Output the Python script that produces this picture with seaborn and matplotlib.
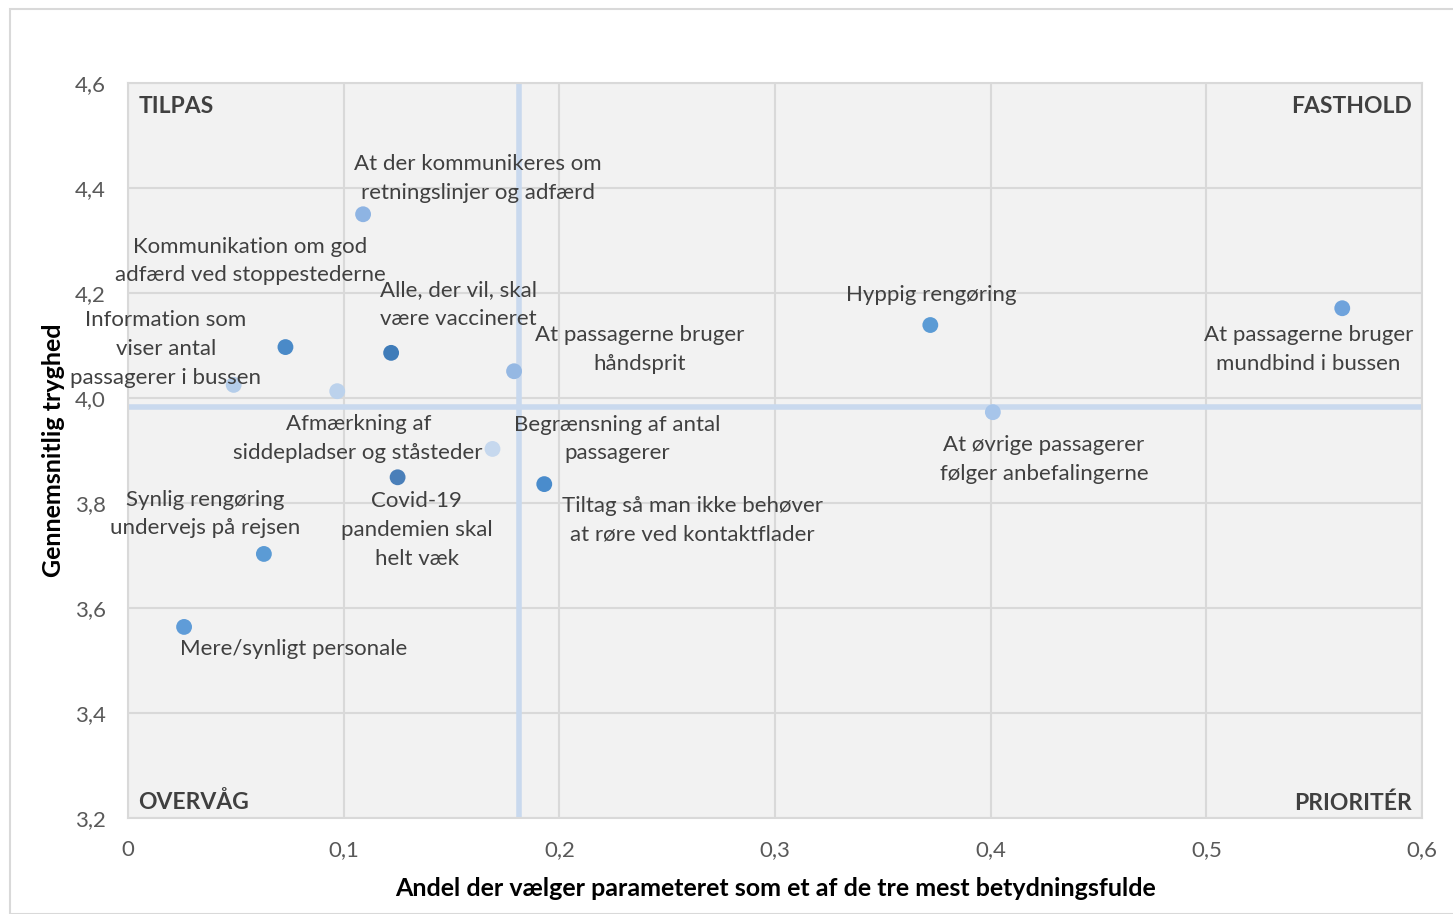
import matplotlib
matplotlib.use("Agg")
import numpy as np
import pandas as pd
import seaborn as sns
import matplotlib.pyplot as plt
from matplotlib.patches import Rectangle

# data
labels = [
    "At der kommunikeres om\nretningslinjer og adfærd",
    "Kommunikation om god\nadfærd ved stoppestederne",
    "Information som\nviser antal\npassagerer i bussen",
    "Alle, der vil, skal\nvære vaccineret",
    "At passagerne bruger\nhåndsprit",
    "Hyppig rengøring",
    "At passagerne bruger\nmundbind i bussen",
    "At øvrige passagerer\nfølger anbefalingerne",
    "Afmærkning af\nsiddepladser og ståsteder",
    "Begrænsning af antal\npassagerer",
    "Tiltag så man ikke behøver\nat røre ved kontaktflader",
    "Covid-19\npandemien skal\nhelt væk",
    "Synlig rengøring\nundervejs på rejsen",
    "Mere/synligt personale",
]
share = [0.109, 0.073, 0.049, 0.122, 0.179, 0.372, 0.563, 0.401,
         0.097, 0.169, 0.193, 0.125, 0.063, 0.026]
safety = [4.350, 4.097, 4.025, 4.086, 4.051, 4.139, 4.171, 3.973,
          4.013, 3.903, 3.836, 3.849, 3.703, 3.564]
point_colors = ["#8eb4e3", "#4a8ac8", "#b4cdea", "#3f7cb9", "#95b8e3",
                "#5b9bd5", "#6fa3dc", "#a7c5ea", "#bcd2ec", "#c6d8ee",
                "#4a8ccc", "#4a7fb9", "#5b9bd5", "#5f9cd8"]
# label offsets in pixels (dx, dy)
label_offsets = [(115, 36), (-35, 86), (-68, 36), (67, 48), (126, 22),
                 (1, 30), (-34, -41), (51, -47), (21, -47), (125, 10),
                 (148, -36), (19, -53), (-59, 40), (110, -22)]
x_split = 0.1812
y_split = 3.983

xticks = [0, 0.1, 0.2, 0.3, 0.4, 0.5, 0.6]
yticks = [3.2, 3.4, 3.6, 3.8, 4.0, 4.2, 4.4, 4.6]

df = pd.DataFrame({"label": labels, "share": share, "safety": safety})

sns.set_style("white")
plt.rcParams["font.family"] = ["Lato", "DejaVu Sans"]

fig = plt.figure(figsize=(14.53, 9.14), dpi=100)
ax = fig.add_axes([0.0881, 0.105, 0.8906, 0.8042])
ax.set_facecolor("#f2f2f2")

fig.patches.append(Rectangle((10 / 1453, 0), 1.0, 1 - 9 / 914, transform=fig.transFigure,
                             fill=False, edgecolor="#d9d9d9", linewidth=1.5, zorder=0))

ax.set_xlim(0, 0.6)
ax.set_ylim(3.2, 4.6)
ax.set_xticks(xticks)
ax.set_yticks(yticks)
ax.set_xticklabels([("%g" % t).replace(".", ",") for t in xticks])
ax.set_yticklabels([("%.1f" % t).replace(".", ",") for t in yticks])
ax.tick_params(labelsize=16, colors="#595959", length=0)
ax.tick_params(axis="y", pad=16)
ax.tick_params(axis="x", pad=16)
ax.grid(True, color="#d9d9d9", linewidth=1.5)
ax.set_axisbelow(True)
for s in ax.spines.values():
    s.set_color("#d9d9d9")
    s.set_linewidth(1.5)

ax.axvline(x_split, color="#c9d9ee", linewidth=4, zorder=1)
ax.axhline(y_split, color="#c9d9ee", linewidth=4, zorder=1)

sns.scatterplot(data=df, x="share", y="safety", hue="label",
                palette=point_colors, s=130, edgecolor="none",
                legend=False, ax=ax, zorder=3)

for lab, x, y, (dx, dy) in zip(labels, share, safety, label_offsets):
    ax.annotate(lab, (x, y), xytext=(dx, dy), textcoords="offset pixels",
                ha="center", va="center", fontsize=16, color="#404040",
                linespacing=1.55, zorder=4)

qkw = dict(transform=ax.transAxes, fontsize=16.5, fontweight="bold", color="#404040")
ax.text(0.008, 0.968, "TILPAS", ha="left", va="center", **qkw)
ax.text(0.992, 0.968, "FASTHOLD", ha="right", va="center", **qkw)
ax.text(0.008, 0.022, "OVERVÅG", ha="left", va="center", **qkw)
ax.text(0.992, 0.020, "PRIORITÉR", ha="right", va="center", **qkw)

ax.set_xlabel("Andel der vælger parameteret som et af de tre mest betydningsfulde",
              fontsize=18, fontweight="bold", color="black", labelpad=12)
ax.set_ylabel("Gennemsnitlig tryghed", fontsize=18, fontweight="bold",
              color="black", labelpad=7)

fig.savefig("out.png", dpi=100)
